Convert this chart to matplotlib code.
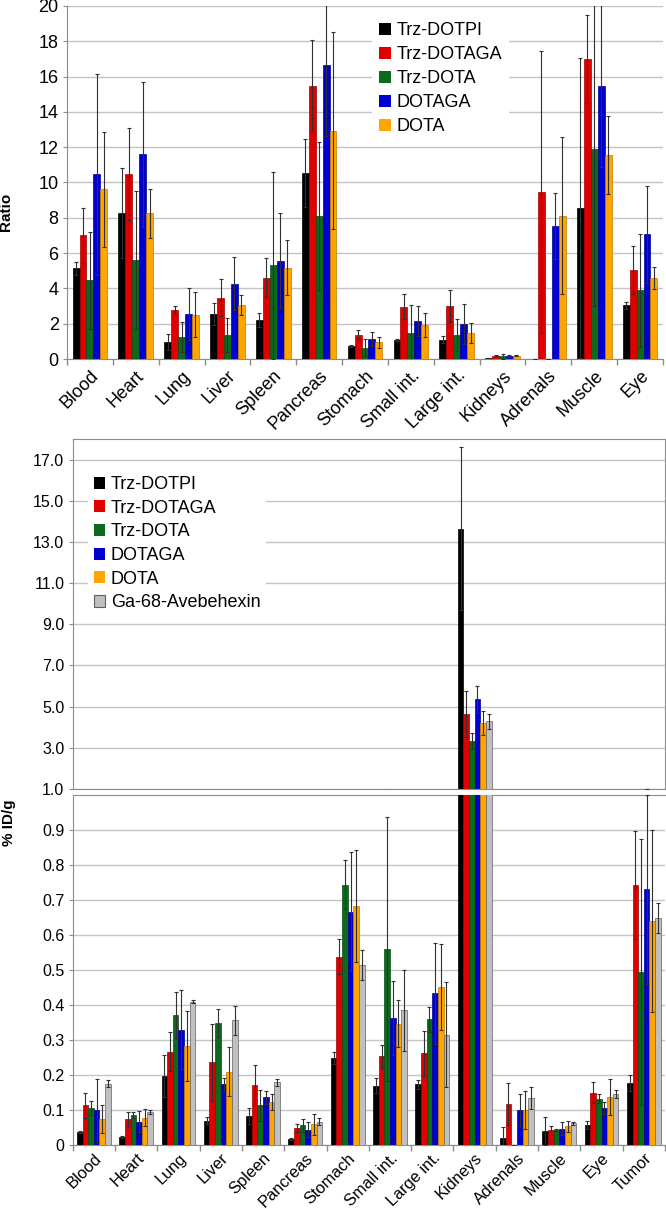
import matplotlib
matplotlib.use('Agg')
import matplotlib.pyplot as plt
import numpy as np

plt.rcParams['font.family'] = ['Liberation Sans', 'DejaVu Sans']

# ---------------- data: top chart (Ratio) ----------------
ratio_organs = ['Blood', 'Heart', 'Lung', 'Liver', 'Spleen', 'Pancreas', 'Stomach',
                'Small int.', 'Large int.', 'Kidneys', 'Adrenals', 'Muscle', 'Eye']
ratio_series = ['Trz-DOTPI', 'Trz-DOTAGA', 'Trz-DOTA', 'DOTAGA', 'DOTA']
ratio_trz_dotpi = [5.13, 8.25, 0.94, 2.55, 2.2, 10.56, 0.75, 1.09, 1.08, 0.04, 0, 8.57, 3.04]
ratio_trz_dotpi_err = [0.35, 2.55, 0.45, 0.65, 0.4, 1.92, 0.05, 0.05, 0.2, 0.01, 0, 8.5, 0.2]
ratio_trz_dotaga = [7.02, 10.48, 2.77, 3.47, 4.6, 15.49, 1.38, 2.96, 3.0, 0.19, 9.47, 16.98, 5.06]
ratio_trz_dotaga_err = [1.56, 2.6, 0.25, 1.06, 1.1, 2.6, 0.25, 0.7, 0.9, 0.03, 8.0, 2.5, 1.37]
ratio_trz_dota = [4.45, 5.6, 1.25, 1.38, 5.32, 8.11, 0.64, 1.45, 1.36, 0.15, 0, 11.92, 3.9]
ratio_trz_dota_err = [2.77, 3.9, 0.83, 0.96, 5.3, 4.2, 0.47, 1.6, 0.9, 0.15, 0, 8.9, 3.2]
ratio_dotaga = [10.46, 11.6, 2.55, 4.26, 5.58, 16.66, 1.11, 2.13, 2.0, 0.17, 7.55, 15.49, 7.06]
ratio_dotaga_err = [5.7, 4.1, 1.5, 1.5, 2.7, 4.0, 0.4, 0.85, 1.13, 0.03, 1.87, 4.6, 2.73]
ratio_dota = [9.61, 8.25, 2.51, 3.06, 5.17, 12.94, 0.94, 1.92, 1.49, 0.19, 8.13, 11.56, 4.6]
ratio_dota_err = [3.27, 1.4, 1.26, 0.55, 1.57, 5.6, 0.3, 0.66, 0.56, 0.03, 4.47, 2.2, 0.64]

# ---------------- data: bottom chart (% ID/g) ----------------
idg_organs = ['Blood', 'Heart', 'Lung', 'Liver', 'Spleen', 'Pancreas', 'Stomach',
              'Small int.', 'Large int.', 'Kidneys', 'Adrenals', 'Muscle', 'Eye', 'Tumor']
idg_series = ['Trz-DOTPI', 'Trz-DOTAGA', 'Trz-DOTA', 'DOTAGA', 'DOTA', 'Ga-68-Avebehexin']
idg_trz_dotpi = [0.036, 0.023, 0.198, 0.07, 0.083, 0.018, 0.249, 0.17, 0.173, 13.65, 0.021, 0.039, 0.058, 0.177]
idg_trz_dotpi_err = [0.003, 0.004, 0.06, 0.01, 0.022, 0.003, 0.017, 0.022, 0.014, 3.97, 0.03, 0.04, 0.011, 0.022]
idg_trz_dotaga = [0.113, 0.073, 0.267, 0.237, 0.171, 0.049, 0.538, 0.254, 0.262, 4.63, 0.116, 0.042, 0.15, 0.743]
idg_trz_dotaga_err = [0.035, 0.02, 0.056, 0.11, 0.058, 0.012, 0.05, 0.033, 0.065, 1.12, 0.06, 0.013, 0.03, 0.154]
idg_trz_dota = [0.106, 0.085, 0.372, 0.349, 0.113, 0.056, 0.743, 0.56, 0.359, 3.32, 0, 0.042, 0.132, 0.495]
idg_trz_dota_err = [0.02, 0.009, 0.065, 0.039, 0.044, 0.018, 0.07, 0.377, 0.035, 0.4, 0, 0.003, 0.013, 0.38]
idg_dotaga = [0.1, 0.067, 0.33, 0.173, 0.136, 0.044, 0.667, 0.362, 0.433, 5.36, 0.1, 0.047, 0.106, 0.731]
idg_dotaga_err = [0.09, 0.03, 0.113, 0.018, 0.018, 0.022, 0.17, 0.106, 0.145, 0.66, 0.046, 0.018, 0.018, 0.27]
idg_dota = [0.075, 0.078, 0.284, 0.21, 0.123, 0.059, 0.684, 0.347, 0.452, 4.2, 0.1, 0.054, 0.138, 0.64]
idg_dota_err = [0.04, 0.024, 0.1, 0.07, 0.022, 0.031, 0.16, 0.067, 0.122, 0.58, 0.055, 0.016, 0.052, 0.26]
idg_ga68 = [0.175, 0.094, 0.409, 0.356, 0.18, 0.067, 0.514, 0.385, 0.315, 4.28, 0.135, 0.062, 0.145, 0.648]
idg_ga68_err = [0.01, 0.006, 0.004, 0.042, 0.01, 0.01, 0.042, 0.115, 0.15, 0.37, 0.031, 0.004, 0.011, 0.043]

colors = ['#000000', '#e00000', '#0b6a1c', '#0000d0', '#ffa500', '#c0c0c0']
edges = ['#000000', '#a00000', '#084a14', '#000090', '#c07a00', '#606060']
GRID = '#c4c4c4'
SPINE = '#8c8c8c'

W, H = 666, 1209
fig = plt.figure(figsize=(W / 100, H / 100), dpi=100)


def rect(l, t, r, b):
    return [l / W, 1 - b / H, (r - l) / W, (b - t) / H]


def draw(ax, vals, errs, names, total):
    k = len(vals)
    n = len(vals[0])
    x = np.arange(n)
    w = total / k
    for i in range(k):
        off = (i - (k - 1) / 2) * w
        ax.bar(x + off, vals[i], w, color=colors[i], edgecolor=edges[i], linewidth=0.5,
               yerr=errs[i], label=names[i], zorder=3,
               error_kw=dict(ecolor='#303030', elinewidth=0.8, capsize=1.6, capthick=0.8, zorder=4))
    ax.set_xlim(-0.5, n - 0.5)


def style_x(ax, labels, fs, pad):
    n = len(labels)
    ax.set_xticks(np.arange(n))
    ax.set_xticklabels(labels, rotation=45, ha='right', va='top', rotation_mode='anchor', fontsize=fs)
    ax.tick_params(axis='x', which='major', length=0, pad=pad)
    ax.set_xticks(np.arange(n + 1) - 0.5, minor=True)
    ax.tick_params(axis='x', which='minor', length=4, color=SPINE, width=1)


# ---------------- top chart ----------------
ax1 = fig.add_axes(rect(67, 6, 663, 359))
draw(ax1, [ratio_trz_dotpi, ratio_trz_dotaga, ratio_trz_dota, ratio_dotaga, ratio_dota],
     [ratio_trz_dotpi_err, ratio_trz_dotaga_err, ratio_trz_dota_err, ratio_dotaga_err, ratio_dota_err],
     ratio_series, 0.755)
ax1.set_ylim(0, 20)
ax1.set_yticks(np.arange(0, 21, 2))
ax1.tick_params(axis='y', labelsize=13, length=3, color=SPINE, pad=3)
ax1.yaxis.grid(True, color=GRID, linewidth=1, zorder=0)
ax1.set_axisbelow(True)
for s in ['top', 'right']:
    ax1.spines[s].set_visible(False)
for s in ['left', 'bottom']:
    ax1.spines[s].set_color(SPINE)
style_x(ax1, ratio_organs, 13, 6)
leg1 = ax1.legend(loc='upper left', bbox_to_anchor=(0.512, 0.975), fontsize=13, frameon=True,
                  fancybox=False, edgecolor='none', facecolor='white', framealpha=1,
                  handlelength=0.65, handleheight=0.65, handletextpad=0.3, labelspacing=0.39,
                  borderpad=0.4, borderaxespad=0)
for h in leg1.legend_handles:
    h.set_linewidth(0)
fig.text(6 / W, 1 - 212 / H, 'Ratio', rotation=90, ha='center', va='center', fontsize=11, fontweight='bold')

# ---------------- bottom chart ----------------
idg_vals = [idg_trz_dotpi, idg_trz_dotaga, idg_trz_dota, idg_dotaga, idg_dota, idg_ga68]
idg_errs = [idg_trz_dotpi_err, idg_trz_dotaga_err, idg_trz_dota_err, idg_dotaga_err, idg_dota_err, idg_ga68_err]

ax2 = fig.add_axes(rect(72.7, 439, 665, 789))
draw(ax2, idg_vals, idg_errs, idg_series, 0.8)
ax2.set_ylim(1, 18)
ax2.set_yticks(np.arange(1, 18, 2))
ax2.set_yticklabels(['%.1f' % v for v in np.arange(1, 18, 2)])
ax2.tick_params(axis='y', labelsize=11.5, length=3, color=SPINE, pad=3)
ax2.yaxis.grid(True, color=GRID, linewidth=1, zorder=0)
ax2.set_axisbelow(True)
ax2.set_xticks([])
for s in ax2.spines.values():
    s.set_color(SPINE)
leg2 = ax2.legend(loc='upper left', bbox_to_anchor=(0.026, 0.91), fontsize=13, frameon=True,
                  fancybox=False, edgecolor='none', facecolor='white', framealpha=1,
                  handlelength=0.65, handleheight=0.65, handletextpad=0.3, labelspacing=0.37,
                  borderpad=0.3, borderaxespad=0)
for i, h in enumerate(leg2.legend_handles):
    if i == 5:
        h.set_edgecolor('#606060')
        h.set_linewidth(0.8)
    else:
        h.set_linewidth(0)

ax3 = fig.add_axes(rect(72.7, 795, 665, 1145))
draw(ax3, idg_vals, idg_errs, idg_series, 0.8)
ax3.set_ylim(0, 1)
ax3.set_yticks(np.arange(0, 1.0, 0.1))
ax3.set_yticklabels(['0'] + ['%.1f' % v for v in np.arange(0.1, 0.95, 0.1)])
ax3.tick_params(axis='y', labelsize=11.5, length=3, color=SPINE, pad=3)
ax3.yaxis.grid(True, color=GRID, linewidth=1, zorder=0)
ax3.set_axisbelow(True)
ax3.spines['right'].set_visible(False)
for s in ['left', 'bottom', 'top']:
    ax3.spines[s].set_color(SPINE)
style_x(ax3, idg_organs, 11.8, 4)
fig.text(9 / W, 1 - 823 / H, '% ID/g', rotation=90, ha='center', va='center', fontsize=11, fontweight='bold')

fig.savefig('out.png', dpi=100)
